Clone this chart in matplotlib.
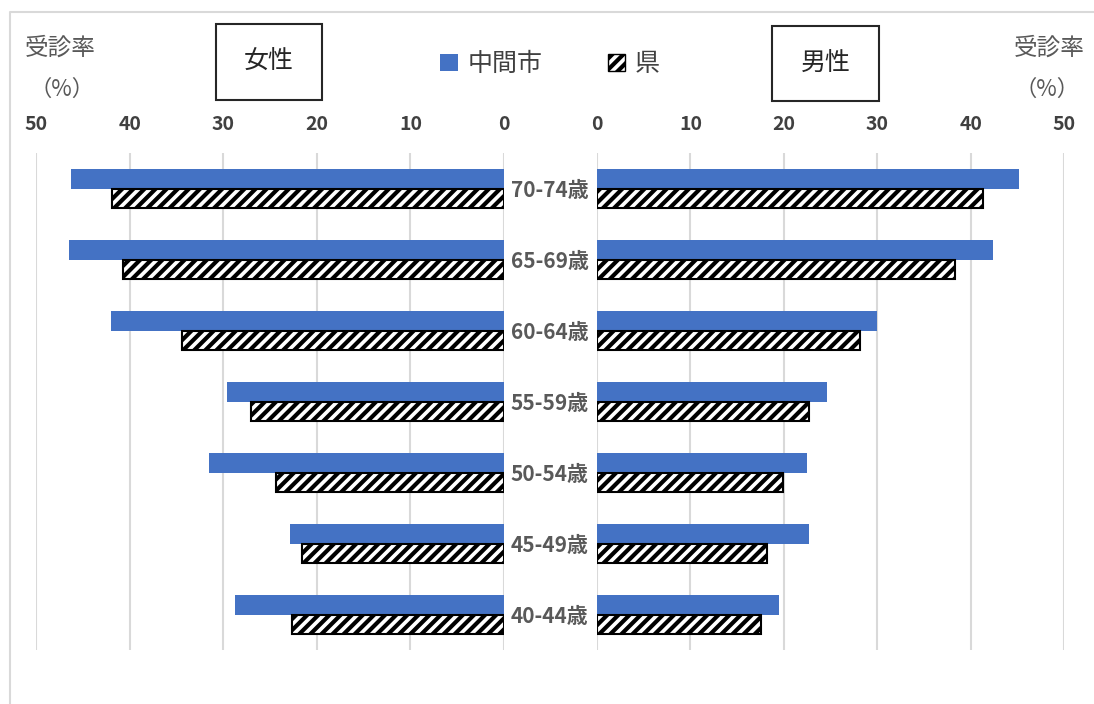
import matplotlib
matplotlib.use('Agg')
import matplotlib.pyplot as plt
from matplotlib.patches import Patch, Rectangle
from matplotlib.lines import Line2D
import numpy as np

plt.rcParams['font.family'] = ['Noto Sans CJK JP', 'DejaVu Sans']
plt.rcParams['hatch.linewidth'] = 3.0

# data (受診率 %)
age_groups = ['70-74歳', '65-69歳', '60-64歳', '55-59歳', '50-54歳', '45-49歳', '40-44歳']
female_city = [46.3, 46.5, 42.0, 29.6, 31.5, 22.9, 28.7]
female_pref = [41.9, 40.7, 34.4, 27.0, 24.4, 21.6, 22.7]
male_city = [45.2, 42.4, 30.0, 24.6, 22.5, 22.7, 19.5]
male_pref = [41.3, 38.3, 28.2, 22.7, 19.9, 18.2, 17.6]
x_ticks = [0, 10, 20, 30, 40, 50]

blue = '#4472C4'
grey_txt = '#595959'
dark_txt = '#404040'

W, H = 1094, 704
fig = plt.figure(figsize=(W / 100, H / 100), dpi=100)


def px_rect(x0, y0, x1, y1):
    # pixel box (top-left origin) -> figure fraction [l, b, w, h]
    return [x0 / W, 1 - y1 / H, (x1 - x0) / W, (y1 - y0) / H]


ax_f = fig.add_axes(px_rect(36, 153, 504, 650))
ax_m = fig.add_axes(px_rect(597, 153, 1064, 650))

y = np.arange(len(age_groups))
bh = 0.27
for ax, city, pref in ((ax_f, female_city, female_pref), (ax_m, male_city, male_pref)):
    ax.barh(y - bh / 2, city, height=bh, color=blue, linewidth=0, zorder=3)
    ax.barh(y + bh / 2, pref, height=bh, color='white', edgecolor='black',
            hatch='///', linewidth=1.5, zorder=3)
    ax.set_xlim(0, 50)
    ax.set_ylim(len(age_groups) - 0.5, -0.5)
    ax.set_xticks(x_ticks)
    ax.xaxis.tick_top()
    ax.tick_params(axis='x', length=0, pad=14, labelsize=14, labelcolor=dark_txt)
    for lbl in ax.get_xticklabels():
        lbl.set_fontweight('bold')
    ax.grid(axis='x', color='#d9d9d9', linewidth=1.5, zorder=0)
    ax.set_axisbelow(True)
    for s in ax.spines.values():
        s.set_visible(False)

ax_f.invert_xaxis()
ax_f.set_yticks([])
ax_m.set_yticks(y)
ax_m.set_yticklabels(age_groups, ha='center', fontweight='bold', color=grey_txt, fontsize=15)
ax_m.tick_params(axis='y', length=0, pad=34)

# side titles in boxes
for (x0, y0, x1, y1), t in (((216, 24, 322, 100), '女性'), ((772, 26, 879, 101), '男性')):
    fig.patches.append(Rectangle((x0 / W, 1 - y1 / H), (x1 - x0) / W, (y1 - y0) / H,
                                 transform=fig.transFigure, facecolor='white',
                                 edgecolor='#262626', linewidth=1.5))
    fig.text((x0 + x1) / 2 / W, 1 - (y0 + y1) / 2 / H, t, ha='center', va='center',
             fontsize=18, color='#262626')

# axis unit labels
for xc, xp in ((60, 62), (1049, 1047)):
    fig.text(xc / W, 1 - 48 / H, '受診率', ha='center', va='center', fontsize=17, color=grey_txt)
    fig.text(xp / W, 1 - 89 / H, '（%）', ha='center', va='center', fontsize=16, color=grey_txt)

handles = [Patch(facecolor=blue, label='中間市'),
           Patch(facecolor='white', edgecolor='black', hatch='///', label='県')]
fig.legend(handles=handles, loc='center', bbox_to_anchor=(550 / W, 1 - 64 / H), ncol=2,
           frameon=False, fontsize=18, handlelength=0.7, handleheight=0.7,
           handletextpad=0.4, columnspacing=2.6, labelcolor=dark_txt)

# outer chart border (top and left visible)
fig.lines.append(Line2D([10 / W, 10 / W, 1.0], [0.0, 1 - 12 / H, 1 - 12 / H],
                        transform=fig.transFigure, color='#d9d9d9', linewidth=1.5))

fig.savefig('out.png', dpi=100)
